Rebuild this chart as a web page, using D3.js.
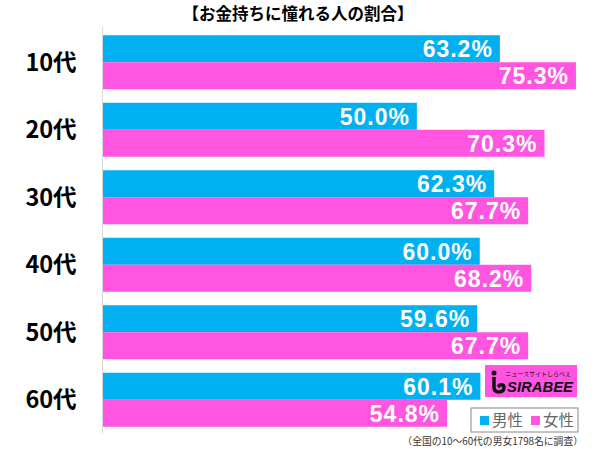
<!DOCTYPE html>
<html>
<head>
<meta charset="utf-8">
<script src="https://cdn.jsdelivr.net/npm/d3@7"></script>
<style>
  body { margin: 0; background: #fff; }
  svg { display: block; font-family: "Liberation Sans", Arial, "Noto Sans CJK JP", sans-serif; }
</style>
</head>
<body>
<svg id="chart"></svg>
<script>
const title = "【お金持ちに憧れる人の割合】";
const ages = ["10代", "20代", "30代", "40代", "50代", "60代"];
const genders = ["男性", "女性"];
const male = [63.2, 50.0, 62.3, 60.0, 59.6, 60.1];
const female = [75.3, 70.3, 67.7, 68.2, 67.7, 54.8];
const note = "（全国の10〜60代の男女1798名に調査）";

const width = 600;
const height = 449;
const colors = ["#00b0f0", "#ff55e1"];

const svg = d3.select("#chart")
    .attr("width", width)
    .attr("height", height);

const rows = ages.map((a, i) => ({ age: a, values: [male[i], female[i]] }));

const x = d3.scaleLinear()
    .domain([0, 80])
    .range([102.5, 605.5]);

const y = d3.scaleBand()
    .domain(ages)
    .range([28.5, 433.5])
    .paddingInner(0.2)
    .paddingOuter(0.1);

const sub = d3.scaleBand()
    .domain(genders)
    .range([0, y.bandwidth()]);

// title
svg.append("text")
    .attr("x", 298)
    .attr("y", 14)
    .attr("dy", "0.35em")
    .attr("text-anchor", "middle")
    .attr("font-size", 16.5)
    .attr("font-weight", "bold")
    .attr("font-family", "'Noto Sans CJK JP', sans-serif")
    .text(title);

// axis line
svg.append("line")
    .attr("x1", x(0)).attr("x2", x(0))
    .attr("y1", 27).attr("y2", 433)
    .attr("stroke", "#d8d8d8")
    .attr("stroke-width", 1);

const group = svg.append("g")
    .selectAll("g")
    .data(rows)
    .join("g")
    .attr("transform", d => `translate(0,${y(d.age)})`);

group.append("text")
    .attr("x", 51)
    .attr("y", y.bandwidth() / 2)
    .attr("dy", "0.36em")
    .attr("text-anchor", "middle")
    .attr("font-size", 23.5)
    .attr("font-weight", "bold")
    .attr("font-family", "'Noto Sans CJK JP', sans-serif")
    .text(d => d.age);

const bar = group.selectAll("g.bar")
    .data(d => d.values.map((v, j) => ({ g: genders[j], v: v, j: j })))
    .join("g")
    .attr("class", "bar");

bar.append("rect")
    .attr("x", x(0) + 0.5)
    .attr("y", d => sub(d.g))
    .attr("width", d => x(d.v) - x(0) - 0.5)
    .attr("height", sub.bandwidth())
    .attr("fill", d => colors[d.j]);

bar.append("text")
    .attr("x", d => x(d.v) - 7)
    .attr("y", d => sub(d.g) + sub.bandwidth() / 2)
    .attr("dy", "0.37em")
    .attr("text-anchor", "end")
    .attr("fill", "#fff")
    .attr("font-size", 23)
    .attr("font-weight", "bold")
    .attr("letter-spacing", 1)
    .text(d => d.v.toFixed(1) + "%");

// logo
const logo = svg.append("g").attr("transform", "translate(485,365)");
logo.append("rect")
    .attr("width", 92).attr("height", 32)
    .attr("fill", colors[1]);
logo.append("circle")
    .attr("cx", 9).attr("cy", 8).attr("r", 2.5)
    .attr("fill", "#111");
logo.append("path")
    .attr("d", "M9,12 L9,22 Q9,27 14,27 Q19,27 19,22 Q19,19 15,20 L13,22")
    .attr("fill", "none")
    .attr("stroke", "#111")
    .attr("stroke-width", 3.5);
logo.append("text")
    .attr("x", 22).attr("y", 27)
    .attr("font-size", 15.5)
    .attr("font-weight", "bold")
    .attr("font-style", "italic")
    .attr("fill", "#111")
    .attr("textLength", 66)
    .attr("lengthAdjust", "spacingAndGlyphs")
    .text("SIRABEE");
logo.append("text")
    .attr("x", 86).attr("y", 11)
    .attr("text-anchor", "end")
    .attr("font-size", 6)
    .attr("fill", "#111")
    .attr("font-family", "'Noto Sans CJK JP', sans-serif")
    .text("ニュースサイトしらべぇ");

// legend
const legend = svg.append("g").attr("transform", "translate(471,408)");
legend.append("rect")
    .attr("width", 107).attr("height", 24)
    .attr("fill", "#fff")
    .attr("stroke", "#888")
    .attr("stroke-width", 1);
const item = legend.selectAll("g")
    .data(genders)
    .join("g")
    .attr("transform", (d, i) => `translate(${9 + i * 51},0)`);
item.append("rect")
    .attr("y", 8).attr("width", 9).attr("height", 9)
    .attr("fill", (d, i) => colors[i]);
item.append("text")
    .attr("x", 12).attr("y", 12.5)
    .attr("dy", "0.36em")
    .attr("font-size", 15.5)
    .attr("fill", "#666")
    .attr("font-family", "'Noto Sans CJK JP', sans-serif")
    .text(d => d);

// footnote
svg.append("text")
    .attr("x", 583)
    .attr("y", 441)
    .attr("dy", "0.36em")
    .attr("text-anchor", "end")
    .attr("font-size", 9.8)
    .attr("fill", "#333")
    .attr("font-family", "'Noto Sans CJK JP', sans-serif")
    .text(note);
</script>
</body>
</html>
